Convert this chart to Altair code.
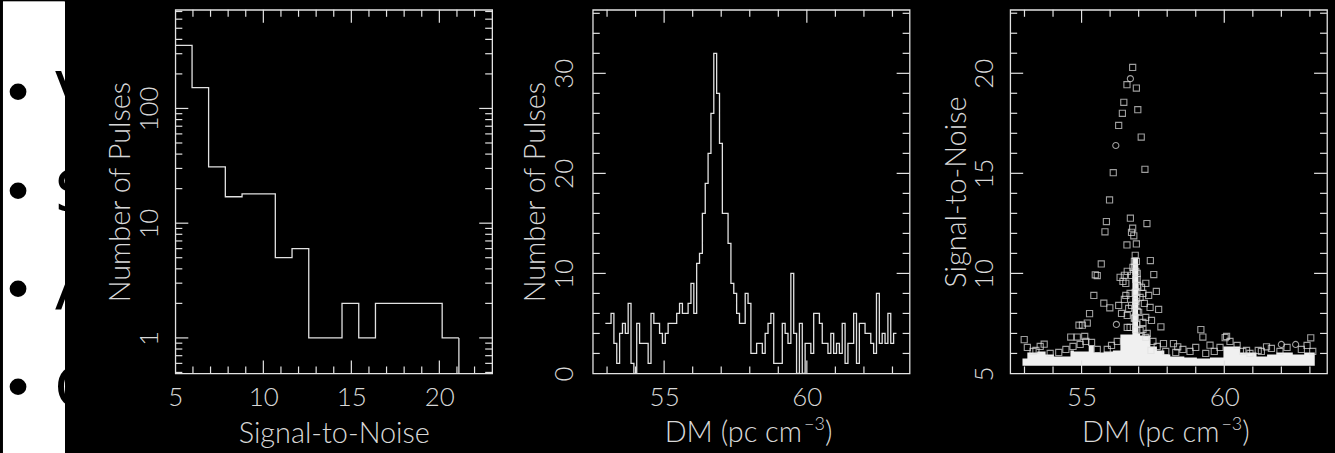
import altair as alt
import pandas as pd

LINE = "#e2e2e2"
TEXT = "#d8d8d8"
FONT = "Lato"
W, H = 318, 365

# ---------------- data ----------------
bullet_letters = ["V", "S", "A", "C"]

# Panel 1: histogram of single-pulse signal-to-noise
snr_edges = [5.0, 5.95, 6.89, 7.84, 8.79, 9.74, 10.68, 11.63, 12.58, 13.53,
             14.47, 15.42, 16.37, 17.32, 18.26, 19.21, 20.16, 21.11]
snr_counts = [355, 152, 31, 17, 18, 18, 5, 6, 1, 1, 2, 1, 2, 2, 2, 2, 1]

# Panel 2: histogram of pulse DM (0.1 pc cm^-3 bins)
dm_bin_start = 52.94
dm_bin_width = 0.1
dm_counts = [5, 5, 6, 3, 1, 4, 5, 4, 7, 1,
             0, 5, 3, 3, 3, 1, 6, 5, 5, 4,
             3, 4, 5, 5, 5, 6, 7, 6, 6, 7,
             9, 6, 11, 12, 16, 19, 22, 26, 32, 28,
             23, 16, 16, 13, 9, 8, 6, 5, 5, 8,
             7, 2, 2, 3, 3, 2, 4, 5, 6, 1,
             1, 1, 5, 4, 3, 10, 4, 0, 5, 0,
             3, 3, 2, 6, 6, 5, 3, 3, 2, 4,
             2, 3, 2, 5, 1, 3, 3, 6, 1, 5,
             5, 4, 4, 3, 2, 8, 3, 4, 3, 6,
             3, 4]

# Panel 3: individual pulses, DM vs S/N
pulse_dm = [56.79, 56.71, 56.59, 56.92, 56.48, 56.43, 56.97, 56.30, 57.09, 56.20,
            56.11, 57.22, 55.98, 55.87, 55.82, 56.71, 57.29, 56.79, 56.75, 56.83,
            56.59, 56.92, 57.41, 55.69, 55.55, 55.48, 57.53, 55.43, 57.62, 55.78,
            55.99, 57.70, 55.28, 55.20, 54.91, 55.03, 56.22, 57.78, 54.62, 54.85,
            55.11, 52.99, 59.18, 59.25, 60.03, 60.08, 59.50, 63.03, 62.00, 62.50,
            58.22, 58.37, 61.48, 60.78, 61.19, 57.43, 57.87, 53.69, 53.40,
            56.35, 56.45, 56.55, 56.75, 56.95, 57.10, 56.70, 56.50, 57.15, 57.35,
            56.90, 56.65, 57.00, 57.25, 56.30, 56.85, 57.15, 57.45, 56.60, 56.70,
            57.05, 57.30, 56.80, 56.85, 56.90, 56.95, 56.60, 56.50, 57.20, 56.40,
            57.40, 56.55, 57.25, 56.75, 57.05,
            56.88, 56.92, 56.86, 56.95, 56.90, 56.97, 56.88, 56.93, 56.90, 56.95,
            56.88, 56.93, 56.90,
            53.10, 53.30, 53.55, 53.90, 54.20, 54.45, 54.70, 54.95, 55.15, 55.35,
            55.55, 55.90, 56.05, 57.50, 57.65, 57.95, 58.30, 58.55, 58.80, 59.00,
            59.35, 59.65, 59.85, 60.20, 60.45, 60.65, 60.90, 61.30, 61.65, 61.95,
            62.20, 62.70, 62.90, 63.10, 56.60, 57.15, 56.25, 57.25]
pulse_snr = [20.29, 19.73, 19.43, 19.26, 18.55, 18.00, 18.18, 17.39, 16.81, 16.39,
             15.03, 15.20, 13.67, 12.59, 12.08, 12.76, 12.49, 12.26, 12.05, 11.88,
             11.42, 11.47, 10.64, 10.47, 9.89, 9.93, 9.94, 8.90, 9.10, 8.51,
             8.28, 8.20, 7.99, 7.52, 7.41, 7.41, 7.45, 7.33, 6.82, 6.82,
             6.85, 6.69, 7.19, 6.82, 6.79, 6.85, 6.41, 6.78, 6.45, 6.45,
             6.49, 6.33, 6.33, 6.15, 6.15, 6.15, 6.49, 6.46, 6.15,
             9.80, 9.60, 9.50, 9.90, 9.70, 9.30, 9.00, 8.70, 9.00, 8.90,
             8.60, 8.25, 8.05, 7.80, 8.40, 7.75, 7.55, 7.65, 7.90, 7.30,
             7.15, 7.00, 10.30, 10.60, 10.10, 9.40, 10.10, 9.90, 8.50, 8.00,
             8.30, 8.90, 9.50, 8.40, 8.80,
             10.90, 10.60, 10.30, 10.00, 9.70, 9.35, 9.05, 8.75, 8.40, 8.10,
             7.80, 7.45, 7.20,
             6.30, 6.10, 6.35, 6.00, 6.05, 6.20, 6.35, 6.45, 6.60, 6.55,
             6.20, 6.20, 6.40, 6.60, 6.35, 6.10, 6.05, 6.20, 6.10, 6.30,
             6.00, 6.10, 6.30, 6.60, 6.40, 6.10, 6.00, 6.10, 6.25, 6.10,
             6.30, 6.20, 6.40, 6.10, 7.30, 7.20, 6.60, 6.80]
circle_pulses = [1, 9, 36, 48, 49]

# Crowded low-S/N floor of pulses: upper envelope of the packed markers
band_dm = [52.93, 53.10, 53.45, 53.74, 54.03, 54.30, 54.61, 54.73, 55.00, 55.25,
           55.43, 55.78, 56.10, 56.36, 56.78, 56.98, 57.05, 57.41, 57.64, 57.90,
           58.11, 58.60, 59.04, 59.50, 59.97, 60.30, 60.55, 61.13, 61.50, 61.83,
           62.40, 62.80, 63.17]
band_snr = [5.75, 6.05, 6.10, 5.95, 5.85, 5.85, 6.15, 6.10, 6.10, 6.40,
            6.05, 6.10, 6.15, 6.95, 10.80, 7.00, 6.90, 6.35, 6.15, 5.95,
            5.85, 5.80, 5.75, 5.80, 6.35, 6.35, 6.05, 5.85, 5.95, 6.05,
            5.95, 6.05, 6.05]
band_floor = 5.38

dm_title = ["DM (pc cm", "\u22123", ")"]


# ---------------- helpers ----------------
def step_table(edges, counts):
    return pd.DataFrame({"x": edges, "y": list(counts) + [counts[-1]]})


def x_axis(values, title):
    return alt.Axis(values=values, title=title, format="d", labelPadding=24,
                    labelBaseline="middle", labelFlush=False, labelOverlap=False,
                    titleY=60, titleBaseline="middle")


def y_axis(values, title, label_pad, title_x):
    return alt.Axis(values=values, title=title, format="d", labelAngle=270,
                    labelAlign="center", labelBaseline="middle",
                    labelPadding=label_pad, labelFlush=False, labelOverlap=False,
                    titleAngle=270, titleX=title_x, titleY=H / 2,
                    titleAlign="center", titleBaseline="middle")


def inward_ticks(xscale, yscale, xax, yax, x_major, x_minor, y_major, y_minor):
    # tick marks pointing into the frame on all four sides
    layers = []
    for vals, ln in ((x_major, 13), (x_minor, 7)):
        base = alt.Chart(pd.DataFrame({"x": vals})).mark_rule(color=LINE, strokeWidth=1.2)
        xe = alt.X("x:Q", scale=xscale, axis=xax)
        layers.append(base.encode(x=xe, y=alt.value(H), y2=alt.value(H - ln)))
        layers.append(base.encode(x=xe, y=alt.value(0), y2=alt.value(ln)))
    for vals, ln in ((y_major, 13), (y_minor, 7)):
        base = alt.Chart(pd.DataFrame({"y": vals})).mark_rule(color=LINE, strokeWidth=1.2)
        ye = alt.Y("y:Q", scale=yscale, axis=yax)
        layers.append(base.encode(y=ye, x=alt.value(0), x2=alt.value(ln)))
        layers.append(base.encode(y=ye, x=alt.value(W), x2=alt.value(W - ln)))
    return layers


def dm_axis_title():
    # "DM (pc cm^-3)" with a raised exponent
    one = pd.DataFrame({"k": [0]})
    style = dict(font=FONT, fontWeight=300, color=TEXT)
    main = alt.Chart(one).mark_text(text=dm_title[0], fontSize=29, align="right",
                                    baseline="middle", **style).encode(
        x=alt.value(210), y=alt.value(H + 60))
    exp = alt.Chart(one).mark_text(text=dm_title[1], fontSize=18, align="left",
                                   baseline="middle", **style).encode(
        x=alt.value(212), y=alt.value(H + 52))
    close = alt.Chart(one).mark_text(text=dm_title[2], fontSize=29, align="left",
                                     baseline="middle", **style).encode(
        x=alt.value(233), y=alt.value(H + 60))
    return [main, exp, close]


# ---------------- left strip with bullets ----------------
bullets = pd.DataFrame({"item": list(range(len(bullet_letters))), "letter": bullet_letters})
b_y = alt.Y("item:O", scale=alt.Scale(type="point", range=[87, 383], padding=0), axis=None)
strip_bg = alt.Chart(bullets).mark_rect(color="white").encode(
    x=alt.value(0), x2=alt.value(62), y=alt.value(-8), y2=alt.value(445))
strip_dots = alt.Chart(bullets).mark_text(
    text="\u2022", font="DejaVu Sans", fontSize=58, color="black",
    align="center", baseline="middle").encode(x=alt.value(15), y=b_y)
strip_letters = alt.Chart(bullets).mark_text(
    font="DejaVu Sans", fontSize=58, color="black",
    align="left", baseline="middle").encode(x=alt.value(52), y=b_y, text="letter:N")
strip = alt.layer(strip_bg, strip_dots, strip_letters).properties(
    width=72, height=445, view=alt.ViewBackground(stroke="transparent"))

# ---------------- panel 1 ----------------
sx1 = alt.Scale(domain=[5, 23], nice=False, zero=False)
sy1 = alt.Scale(type="log", domain=[0.49, 724], nice=False)
ax1 = x_axis([5, 10, 15, 20], "Signal-to-Noise")
ay1 = y_axis([1, 10, 100], "Number of Pulses", 26, -55)
hist1 = step_table(snr_edges, snr_counts)
p1_line = alt.Chart(hist1).mark_line(interpolate="step-after", color=LINE, strokeWidth=1.3).encode(
    x=alt.X("x:Q", scale=sx1, axis=ax1), y=alt.Y("y:Q", scale=sy1, axis=ay1))
p1_drop = alt.Chart(hist1.tail(1)).mark_rule(color=LINE, strokeWidth=1.3).encode(
    x=alt.X("x:Q", scale=sx1, axis=ax1),
    y=alt.Y("y:Q", scale=sy1, axis=ay1), y2=alt.value(H))
p1 = alt.layer(p1_line, p1_drop, *inward_ticks(
    sx1, sy1, ax1, ay1,
    [10, 15, 20], [6, 7, 8, 9, 11, 12, 13, 14, 16, 17, 18, 19, 21, 22],
    [1, 10, 100],
    [0.5, 0.6, 0.7, 0.8, 0.9, 2, 3, 4, 5, 6, 7, 8, 9,
     20, 30, 40, 50, 60, 70, 80, 90, 200, 300, 400, 500, 600, 700])
).properties(width=W, height=H)

# ---------------- panel 2 ----------------
dm_edges = [round(dm_bin_start + dm_bin_width * i, 3) for i in range(len(dm_counts) + 1)]
sx2 = alt.Scale(domain=[52.5, 63.6], nice=False, zero=False)
sy2 = alt.Scale(domain=[0, 36.35], nice=False)
ax2 = x_axis([55, 60], None)
ay2 = y_axis([0, 10, 20, 30], "Number of Pulses", 28, -57)
p2_line = alt.Chart(step_table(dm_edges, dm_counts)).mark_line(
    interpolate="step-after", color=LINE, strokeWidth=1.3).encode(
    x=alt.X("x:Q", scale=sx2, axis=ax2), y=alt.Y("y:Q", scale=sy2, axis=ay2))
p2 = alt.layer(p2_line, *inward_ticks(
    sx2, sy2, ax2, ay2,
    [55, 60], [53, 54, 56, 57, 58, 59, 61, 62, 63],
    [10, 20, 30], [2, 4, 6, 8, 12, 14, 16, 18, 22, 24, 26, 28, 32, 34, 36]),
    *dm_axis_title()
).properties(width=W, height=H)

# ---------------- panel 3 ----------------
sx3 = alt.Scale(domain=[52.5, 63.6], nice=False, zero=False)
sy3 = alt.Scale(domain=[5, 23.17], nice=False, zero=False)
ax3 = x_axis([55, 60], None)
ay3 = y_axis([5, 10, 15, 20], "Signal-to-Noise", 26, -54)
pulses = pd.DataFrame({
    "x": pulse_dm, "y": pulse_snr,
    "shape": ["circle" if i in circle_pulses else "square" for i in range(len(pulse_dm))]})
band = pd.DataFrame({"x": band_dm, "y": band_snr, "floor": band_floor})
p3_band = alt.Chart(band).mark_area(interpolate="step-after", color="#f0f0f0").encode(
    x=alt.X("x:Q", scale=sx3, axis=ax3),
    y=alt.Y("y:Q", scale=sy3, axis=ay3),
    y2="floor:Q")
p3_pts = alt.Chart(pulses).mark_point(filled=False, color=LINE, size=38, strokeWidth=1.1).encode(
    x=alt.X("x:Q", scale=sx3, axis=ax3),
    y=alt.Y("y:Q", scale=sy3, axis=ay3),
    shape=alt.Shape("shape:N", scale=alt.Scale(domain=["square", "circle"],
                                               range=["square", "circle"]), legend=None))
p3 = alt.layer(p3_band, p3_pts, *inward_ticks(
    sx3, sy3, ax3, ay3,
    [55, 60], [53, 54, 56, 57, 58, 59, 61, 62, 63],
    [10, 15, 20], [6, 7, 8, 9, 11, 12, 13, 14, 16, 17, 18, 19, 21, 22, 23]),
    *dm_axis_title()
).properties(width=W, height=H)

chart = alt.hconcat(strip, p1, p2, p3, spacing=101, bounds="flush").configure(
    background="black",
    padding={"left": 0, "top": 0, "right": 6, "bottom": 0},
).configure_view(stroke=LINE, strokeWidth=1.3).configure_axis(
    domain=False, ticks=False, tickSize=0, grid=False,
    labelFont=FONT, labelFontSize=26, labelColor=TEXT, labelFontWeight=300,
    titleFont=FONT, titleFontSize=29, titleColor=TEXT, titleFontWeight=300)

chart.save("out.html", embed_options={"renderer": "svg", "actions": False})
